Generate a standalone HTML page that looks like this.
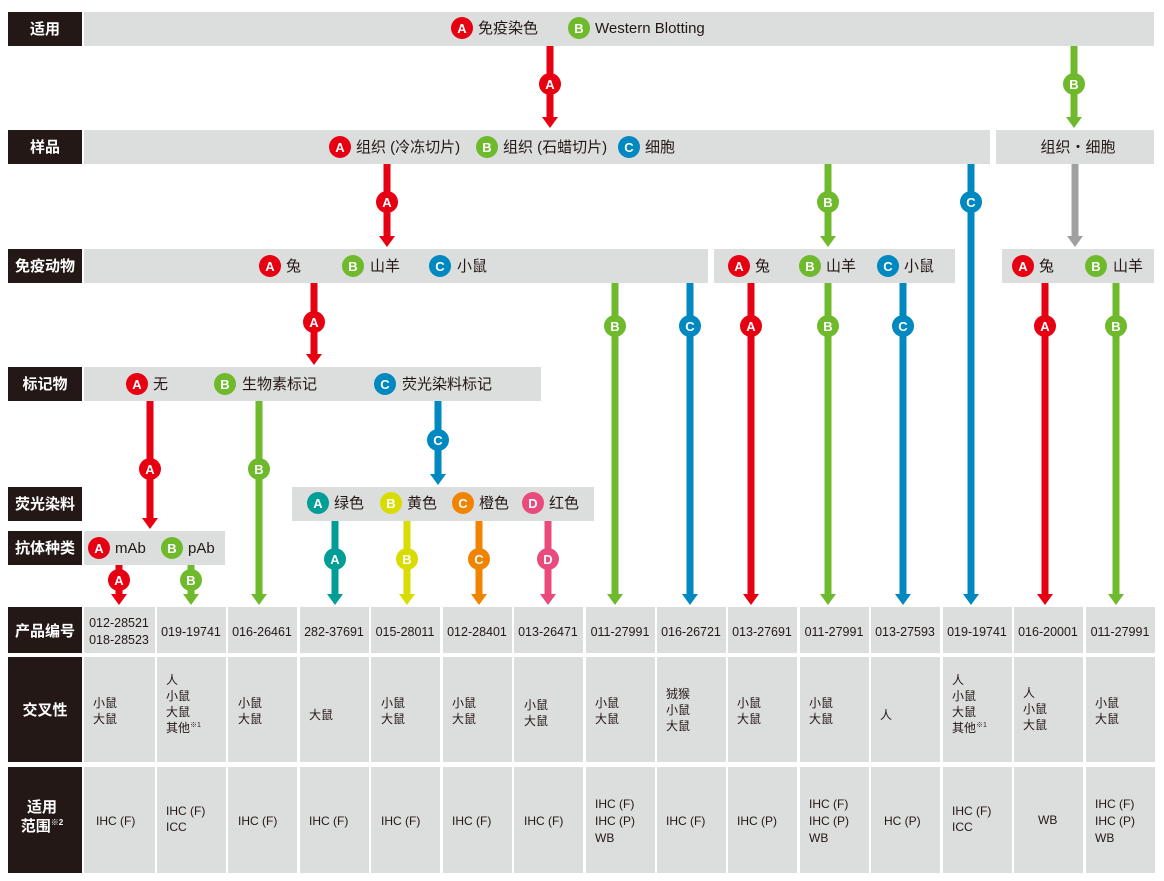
<!DOCTYPE html>
<html><head><meta charset="utf-8"><style>
body{margin:0;background:#fff}
svg{display:block;font-family:"Liberation Sans","Noto Sans CJK SC",sans-serif}
.l{fill:#fff;font-weight:bold;font-size:15px;text-anchor:middle}
.t{fill:#231815;font-size:15px}
.c{fill:#fff;font-weight:bold;font-size:13px;text-anchor:middle}
.p{fill:#231815;font-size:12.5px;text-anchor:middle}
.s{fill:#231815;font-size:12px}
.bar{fill:#dcdddd}
.lab{fill:#231815}
</style></head><body>
<svg width="1164" height="881" viewBox="0 0 1164 881">
<defs>
<g id="hd"><polygon points="-8,-11 8,-11 0,0"/></g>
</defs>
<!-- labels -->
<rect class="lab" x="8" y="12" width="74" height="34"/><text class="l" x="45" y="34">适用</text>
<rect class="lab" x="8" y="130" width="74" height="34"/><text class="l" x="45" y="152">样品</text>
<rect class="lab" x="8" y="249" width="74" height="34"/><text class="l" x="45" y="271">免疫动物</text>
<rect class="lab" x="8" y="367" width="74" height="34"/><text class="l" x="45" y="389">标记物</text>
<rect class="lab" x="8" y="487" width="74" height="34"/><text class="l" x="45" y="509">荧光染料</text>
<rect class="lab" x="8" y="531" width="74" height="34"/><text class="l" x="45" y="553">抗体种类</text>
<rect class="lab" x="8" y="607" width="74" height="46"/><text class="l" x="45" y="636">产品编号</text>
<rect class="lab" x="8" y="657" width="74" height="105"/><text class="l" x="45" y="715">交叉性</text>
<rect class="lab" x="8" y="767" width="74" height="106"/><text class="l" x="42" y="812">适用</text><text class="l" x="42" y="831">范围<tspan font-size="8" dy="-6">※2</tspan></text>

<!-- bars -->
<rect class="bar" x="84" y="12" width="1070" height="34"/>
<rect class="bar" x="84" y="130" width="906" height="34"/>
<rect class="bar" x="996" y="130" width="158" height="34"/>
<rect class="bar" x="84" y="249" width="624" height="34"/>
<rect class="bar" x="714" y="249" width="241" height="34"/>
<rect class="bar" x="1002" y="249" width="152" height="34"/>
<rect class="bar" x="84" y="367" width="457" height="34"/>
<rect class="bar" x="292" y="487" width="302" height="34"/>
<rect class="bar" x="84" y="531" width="141" height="34"/>

<!-- arrows -->
<g fill="#e60012">
<rect x="546.5" y="46" width="7" height="72"/><use href="#hd" x="550" y="128"/><circle cx="550" cy="84" r="11"/>
<rect x="383.5" y="164" width="7" height="73"/><use href="#hd" x="387" y="247"/><circle cx="387" cy="202" r="11"/>
<rect x="310.5" y="283" width="7" height="72"/><use href="#hd" x="314" y="365"/><circle cx="314" cy="322" r="11"/>
<rect x="747.5" y="283" width="7" height="312"/><use href="#hd" x="751" y="605"/><circle cx="751" cy="326" r="11"/>
<rect x="1041.5" y="283" width="7" height="312"/><use href="#hd" x="1045" y="605"/><circle cx="1045" cy="326" r="11"/>
<rect x="146.5" y="401" width="7" height="118"/><use href="#hd" x="150" y="529"/><circle cx="150" cy="469" r="11"/>
<rect x="115.5" y="565" width="7" height="30"/><use href="#hd" x="119" y="605"/><circle cx="119" cy="580" r="11"/>
</g>
<g fill="#6fba2c">
<rect x="1070.5" y="46" width="7" height="72"/><use href="#hd" x="1074" y="128"/><circle cx="1074" cy="84" r="11"/>
<rect x="824.5" y="164" width="7" height="73"/><use href="#hd" x="828" y="247"/><circle cx="828" cy="202" r="11"/>
<rect x="611.5" y="283" width="7" height="312"/><use href="#hd" x="615" y="605"/><circle cx="615" cy="326" r="11"/>
<rect x="824.5" y="283" width="7" height="312"/><use href="#hd" x="828" y="605"/><circle cx="828" cy="326" r="11"/>
<rect x="1112.5" y="283" width="7" height="312"/><use href="#hd" x="1116" y="605"/><circle cx="1116" cy="326" r="11"/>
<rect x="255.5" y="401" width="7" height="194"/><use href="#hd" x="259" y="605"/><circle cx="259" cy="469" r="11"/>
<rect x="187.5" y="565" width="7" height="30"/><use href="#hd" x="191" y="605"/><circle cx="191" cy="580" r="11"/>
</g>
<g fill="#0088c0">
<rect x="967.5" y="164" width="7" height="431"/><use href="#hd" x="971" y="605"/><circle cx="971" cy="202" r="11"/>
<rect x="686.5" y="283" width="7" height="312"/><use href="#hd" x="690" y="605"/><circle cx="690" cy="326" r="11"/>
<rect x="899.5" y="283" width="7" height="312"/><use href="#hd" x="903" y="605"/><circle cx="903" cy="326" r="11"/>
<rect x="434.5" y="401" width="7" height="74"/><use href="#hd" x="438" y="485"/><circle cx="438" cy="440" r="11"/>
</g>
<g fill="#9fa0a0"><rect x="1071.5" y="164" width="7" height="73"/><use href="#hd" x="1075" y="247"/></g>
<g fill="#009e96"><rect x="331.5" y="521" width="7" height="74"/><use href="#hd" x="335" y="605"/><circle cx="335" cy="559" r="11"/></g>
<g fill="#d9dc00"><rect x="403.5" y="521" width="7" height="74"/><use href="#hd" x="407" y="605"/><circle cx="407" cy="559" r="11"/></g>
<g fill="#f08300"><rect x="475.5" y="521" width="7" height="74"/><use href="#hd" x="479" y="605"/><circle cx="479" cy="559" r="11"/></g>
<g fill="#e94c7c"><rect x="544.5" y="521" width="7" height="74"/><use href="#hd" x="548" y="605"/><circle cx="548" cy="559" r="11"/></g>
<g class="c">
<text x="550" y="89">A</text><text x="387" y="207">A</text><text x="314" y="327">A</text><text x="751" y="331">A</text><text x="1045" y="331">A</text><text x="150" y="474">A</text><text x="119" y="585">A</text>
<text x="1074" y="89">B</text><text x="828" y="207">B</text><text x="615" y="331">B</text><text x="828" y="331">B</text><text x="1116" y="331">B</text><text x="259" y="474">B</text><text x="191" y="585">B</text>
<text x="971" y="207">C</text><text x="690" y="331">C</text><text x="903" y="331">C</text><text x="438" y="445">C</text>
<text x="335" y="564">A</text><text x="407" y="564">B</text><text x="479" y="564">C</text><text x="548" y="564">D</text>
</g>

<!-- bar content circles -->
<g fill="#e60012"><circle cx="462" cy="28" r="11"/><circle cx="340" cy="147" r="11"/><circle cx="270" cy="266" r="11"/><circle cx="739" cy="266" r="11"/><circle cx="1023" cy="266" r="11"/><circle cx="137" cy="384" r="11"/><circle cx="99" cy="548" r="11"/></g>
<g fill="#6fba2c"><circle cx="579" cy="28" r="11"/><circle cx="487" cy="147" r="11"/><circle cx="353" cy="266" r="11"/><circle cx="810" cy="266" r="11"/><circle cx="1096" cy="266" r="11"/><circle cx="225" cy="384" r="11"/><circle cx="172" cy="548" r="11"/></g>
<g fill="#0088c0"><circle cx="629" cy="147" r="11"/><circle cx="440" cy="266" r="11"/><circle cx="888" cy="266" r="11"/><circle cx="385" cy="384" r="11"/></g>
<circle fill="#009e96" cx="318" cy="503" r="11"/><circle fill="#d9dc00" cx="391" cy="503" r="11"/><circle fill="#f08300" cx="463" cy="503" r="11"/><circle fill="#e94c7c" cx="533" cy="503" r="11"/>
<g class="c">
<text x="462" y="33">A</text><text x="340" y="152">A</text><text x="270" y="271">A</text><text x="739" y="271">A</text><text x="1023" y="271">A</text><text x="137" y="389">A</text><text x="99" y="553">A</text>
<text x="579" y="33">B</text><text x="487" y="152">B</text><text x="353" y="271">B</text><text x="810" y="271">B</text><text x="1096" y="271">B</text><text x="225" y="389">B</text><text x="172" y="553">B</text>
<text x="629" y="152">C</text><text x="440" y="271">C</text><text x="888" y="271">C</text><text x="385" y="389">C</text>
<text x="318" y="508">A</text><text x="391" y="508">B</text><text x="463" y="508">C</text><text x="533" y="508">D</text>
</g>
<g class="t">
<text x="478" y="33">免疫染色</text><text x="595" y="33">Western Blotting</text>
<text x="356" y="152">组织 (冷冻切片)</text><text x="503" y="152">组织 (石蜡切片)</text><text x="645" y="152">细胞</text>
<text x="1078" y="152" text-anchor="middle">组织・细胞</text>
<text x="286" y="271">兔</text><text x="370" y="271">山羊</text><text x="457" y="271">小鼠</text>
<text x="755" y="271">兔</text><text x="826" y="271">山羊</text><text x="904" y="271">小鼠</text>
<text x="1039" y="271">兔</text><text x="1113" y="271">山羊</text>
<text x="153" y="389">无</text><text x="242" y="389">生物素标记</text><text x="402" y="389">荧光染料标记</text>
<text x="334" y="508">绿色</text><text x="407" y="508">黄色</text><text x="479" y="508">橙色</text><text x="549" y="508">红色</text>
<text x="115" y="553">mAb</text><text x="188" y="553">pAb</text>
</g>

<!-- table -->
<g class="bar">
<rect x="84" y="607" width="71" height="46"/><rect x="157" y="607" width="69" height="46"/><rect x="228" y="607" width="69" height="46"/><rect x="300" y="607" width="69" height="46"/><rect x="371" y="607" width="69" height="46"/><rect x="443" y="607" width="69" height="46"/><rect x="514" y="607" width="69" height="46"/><rect x="586" y="607" width="69" height="46"/><rect x="657" y="607" width="69" height="46"/><rect x="728" y="607" width="69" height="46"/><rect x="800" y="607" width="69" height="46"/><rect x="871" y="607" width="69" height="46"/><rect x="943" y="607" width="69" height="46"/><rect x="1014" y="607" width="69" height="46"/><rect x="1086" y="607" width="69" height="46"/>
<rect x="84" y="657" width="71" height="105"/><rect x="157" y="657" width="69" height="105"/><rect x="228" y="657" width="69" height="105"/><rect x="300" y="657" width="69" height="105"/><rect x="371" y="657" width="69" height="105"/><rect x="443" y="657" width="69" height="105"/><rect x="514" y="657" width="69" height="105"/><rect x="586" y="657" width="69" height="105"/><rect x="657" y="657" width="69" height="105"/><rect x="728" y="657" width="69" height="105"/><rect x="800" y="657" width="69" height="105"/><rect x="871" y="657" width="69" height="105"/><rect x="943" y="657" width="69" height="105"/><rect x="1014" y="657" width="69" height="105"/><rect x="1086" y="657" width="69" height="105"/>
<rect x="84" y="767" width="71" height="106"/><rect x="157" y="767" width="69" height="106"/><rect x="228" y="767" width="69" height="106"/><rect x="300" y="767" width="69" height="106"/><rect x="371" y="767" width="69" height="106"/><rect x="443" y="767" width="69" height="106"/><rect x="514" y="767" width="69" height="106"/><rect x="586" y="767" width="69" height="106"/><rect x="657" y="767" width="69" height="106"/><rect x="728" y="767" width="69" height="106"/><rect x="800" y="767" width="69" height="106"/><rect x="871" y="767" width="69" height="106"/><rect x="943" y="767" width="69" height="106"/><rect x="1014" y="767" width="69" height="106"/><rect x="1086" y="767" width="69" height="106"/>
</g>
<g class="p">
<text x="119" y="627">012-28521</text><text x="119" y="644">018-28523</text>
<text x="191" y="636">019-19741</text><text x="262" y="636">016-26461</text><text x="334" y="636">282-37691</text><text x="405" y="636">015-28011</text><text x="477" y="636">012-28401</text><text x="548" y="636">013-26471</text><text x="620" y="636">011-27991</text><text x="691" y="636">016-26721</text><text x="762" y="636">013-27691</text><text x="834" y="636">011-27991</text><text x="905" y="636">013-27593</text><text x="977" y="636">019-19741</text><text x="1048" y="636">016-20001</text><text x="1120" y="636">011-27991</text>
</g>
<g class="s">
<text x="93" y="707">小鼠</text><text x="93" y="723">大鼠</text>
<text x="166" y="684">人</text><text x="166" y="700">小鼠</text><text x="166" y="716">大鼠</text><text x="166" y="732">其他<tspan font-size="7" dy="-5">※1</tspan></text>
<text x="238" y="707">小鼠</text><text x="238" y="723">大鼠</text>
<text x="309" y="719">大鼠</text>
<text x="381" y="707">小鼠</text><text x="381" y="723">大鼠</text>
<text x="452" y="707">小鼠</text><text x="452" y="723">大鼠</text>
<text x="524" y="709">小鼠</text><text x="524" y="725">大鼠</text>
<text x="595" y="707">小鼠</text><text x="595" y="723">大鼠</text>
<text x="666" y="698">狨猴</text><text x="666" y="714">小鼠</text><text x="666" y="730">大鼠</text>
<text x="737" y="707">小鼠</text><text x="737" y="723">大鼠</text>
<text x="809" y="707">小鼠</text><text x="809" y="723">大鼠</text>
<text x="880" y="719">人</text>
<text x="952" y="684">人</text><text x="952" y="700">小鼠</text><text x="952" y="716">大鼠</text><text x="952" y="732">其他<tspan font-size="7" dy="-5">※1</tspan></text>
<text x="1023" y="697">人</text><text x="1023" y="713">小鼠</text><text x="1023" y="729">大鼠</text>
<text x="1095" y="707">小鼠</text><text x="1095" y="723">大鼠</text>

<text x="96" y="825">IHC (F)</text>
<text x="166" y="815">IHC (F)</text><text x="166" y="831">ICC</text>
<text x="238" y="825">IHC (F)</text><text x="309" y="825">IHC (F)</text><text x="381" y="825">IHC (F)</text><text x="452" y="825">IHC (F)</text><text x="524" y="825">IHC (F)</text>
<text x="595" y="808">IHC (F)</text><text x="595" y="825">IHC (P)</text><text x="595" y="842">WB</text>
<text x="666" y="825">IHC (F)</text><text x="737" y="825">IHC (P)</text>
<text x="809" y="808">IHC (F)</text><text x="809" y="825">IHC (P)</text><text x="809" y="842">WB</text>
<text x="884" y="825">HC (P)</text>
<text x="952" y="815">IHC (F)</text><text x="952" y="831">ICC</text>
<text x="1038" y="824">WB</text>
<text x="1095" y="808">IHC (F)</text><text x="1095" y="825">IHC (P)</text><text x="1095" y="842">WB</text>
</g>
</svg>
</body></html>
